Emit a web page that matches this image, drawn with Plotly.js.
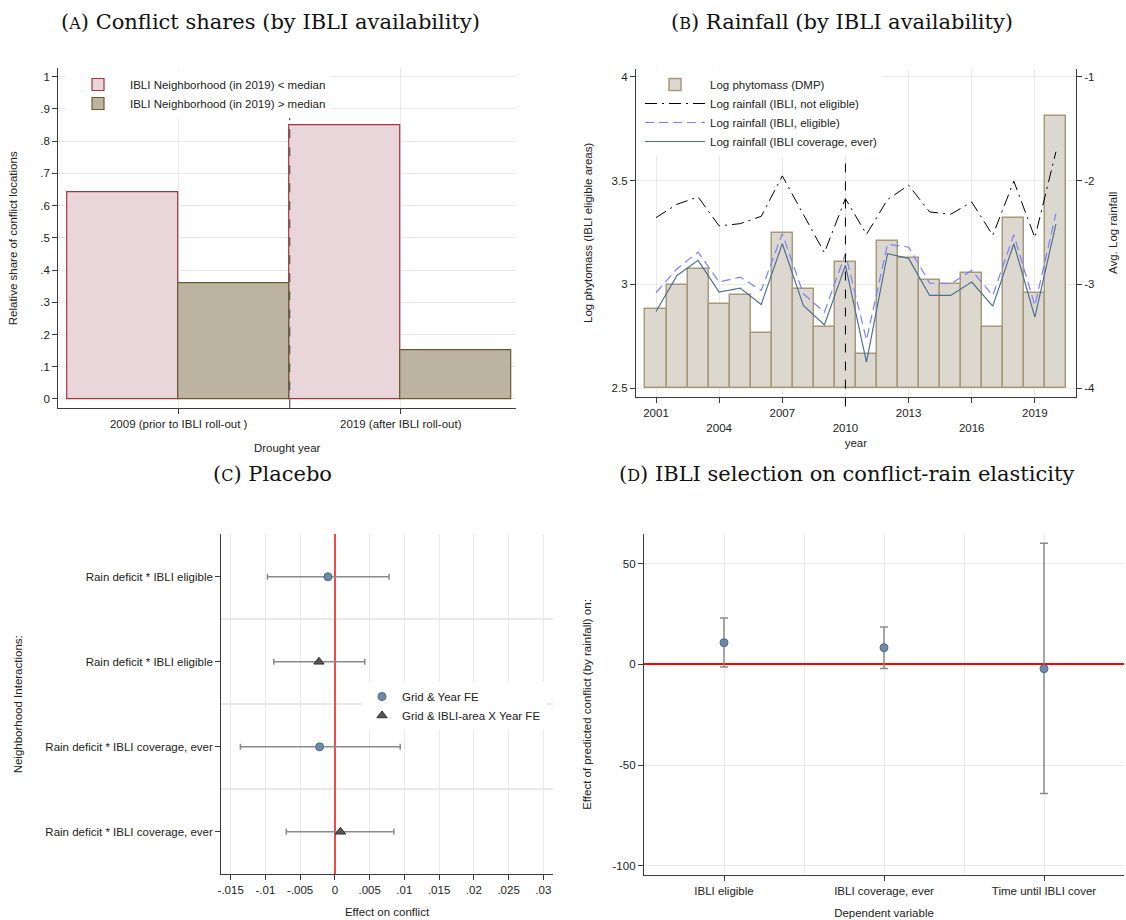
<!DOCTYPE html>
<html><head><meta charset="utf-8">
<script src="https://cdn.plot.ly/plotly-3.0.1.min.js"></script>
<style>html,body{margin:0;padding:0;background:#fff}#chart{width:1126px;height:920px}</style>
</head><body><div id="chart"></div>
<script>
// ---------- Panel A: conflict shares ----------
const droughtYears = ["2009 (prior to IBLI roll-out )", "2019 (after IBLI roll-out)"];
const shareBelowMedian = [0.64, 0.848];
const shareAboveMedian = [0.36, 0.152];
const shareTickVals = [0, 0.1, 0.2, 0.3, 0.4, 0.5, 0.6, 0.7, 0.8, 0.9, 1];
const shareTickText = ["0", ".1", ".2", ".3", ".4", ".5", ".6", ".7", ".8", ".9", "1"];

// ---------- Panel B: rainfall ----------
const years = [2001, 2002, 2003, 2004, 2005, 2006, 2007, 2008, 2009, 2010,
               2011, 2012, 2013, 2014, 2015, 2016, 2017, 2018, 2019, 2020];
const logPhytomass = [2.883, 2.997, 3.073, 2.905, 2.950, 2.766, 3.248, 2.977, 2.794, 3.109,
                      2.663, 3.209, 3.126, 3.020, 3.002, 3.056, 2.795, 3.322, 2.957, 3.812];
const rainNotEligible = [-2.357, -2.228, -2.158, -2.437, -2.415, -2.344, -1.955, -2.33, -2.695, -2.174,
                         -2.518, -2.183, -2.045, -2.302, -2.325, -2.206, -2.527, -2.006, -2.55, -1.723];
const rainEligible = [-3.08, -2.849, -2.688, -2.977, -2.929, -3.058, -2.511, -3.09, -3.267, -2.704,
                      -3.534, -2.614, -2.64, -2.987, -2.994, -2.865, -3.106, -2.521, -3.203, -2.318];
const rainCoverage = [-3.26, -2.913, -2.768, -3.074, -3.035, -3.193, -2.608, -3.203, -3.389, -2.817,
                      -3.749, -2.704, -2.749, -3.106, -3.106, -2.977, -3.209, -2.608, -3.315, -2.42];
const yearTickVals = [2001, 2004, 2007, 2010, 2013, 2016, 2019];
const yearTickText = ["2001", "<br>2004", "2007", "<br>2010", "2013", "<br>2016", "2019"];
const phytoTickVals = [2.5, 3, 3.5, 4];
const phytoTickText = ["2.5", "3", "3.5", "4"];
const rainTickVals = [-4, -3, -2, -1];
const rainTickText = ["-4", "-3", "-2", "-1"];
const rolloutYear = 2010;
const phytoBase = 2.5;

// ---------- Panel C: placebo ----------
const placeboLabels = ["Rain deficit * IBLI eligible", "Rain deficit * IBLI eligible",
                       "Rain deficit * IBLI coverage, ever", "Rain deficit * IBLI coverage, ever"];
const placeboModel = ["Grid & Year FE", "Grid & IBLI-area X Year FE", "Grid & Year FE", "Grid & IBLI-area X Year FE"];
const placeboEst = [-0.001, -0.0023, -0.0022, 0.0008];
const placeboLo = [-0.0097, -0.0088, -0.0136, -0.0070];
const placeboHi = [0.0078, 0.0043, 0.0094, 0.0085];
const effectTickVals = [-0.015, -0.01, -0.005, 0, 0.005, 0.01, 0.015, 0.02, 0.025, 0.03];
const effectTickText = ["-.015", "-.01", "-.005", "0", ".005", ".01", ".015", ".02", ".025", ".03"];

// ---------- Panel D: selection ----------
const depVars = ["IBLI eligible", "IBLI coverage, ever", "Time until IBLI cover"];
const selEst = [10.8, 8.3, -2.1];
const selLo = [-1.3, -2.0, -64.1];
const selHi = [23.0, 18.5, 60.1];
const selTickVals = [-100, -50, 0, 50];
const selTickText = ["-100", "-50", "0", "50"];

// ---------- layout helpers ----------
const W = 1126, H = 920;
const dx = (a, b) => [a / W, b / W];
const dy = (top, bottom) => [1 - bottom / H, 1 - top / H];
const FONT = "Liberation Sans, Arial, sans-serif";
const SERIF = "DejaVu Serif, Liberation Serif, serif";
const FS = 11.5;
const GRID = "#e9e9e9";
const AXIS = "#3c3c3c";
const TXT = "#222";
const axFont = {family: FONT, size: FS, color: TXT};

function axisBase(extra) {
  return Object.assign({
    showline: true, linecolor: AXIS, linewidth: 1.3, mirror: false,
    ticks: "outside", ticklen: 5, tickcolor: AXIS, tickwidth: 1,
    gridcolor: GRID, gridwidth: 1, zeroline: false,
    tickfont: axFont, fixedrange: true
  }, extra);
}

const traces = [];

// Panel A
traces.push({
  type: "bar", x: droughtYears, y: shareBelowMedian, xaxis: "x", yaxis: "y",
  name: "IBLI Neighborhood (in 2019) < median", legend: "legend",
  marker: {color: "#e8d6da", line: {color: "#a3343f", width: 1.2}}, hoverinfo: "y"
});
traces.push({
  type: "bar", x: droughtYears, y: shareAboveMedian, xaxis: "x", yaxis: "y",
  name: "IBLI Neighborhood (in 2019) > median", legend: "legend",
  marker: {color: "#bcb3a0", line: {color: "#6b5a30", width: 1.2}}, hoverinfo: "y"
});

// Panel B
traces.push({
  type: "bar", x: years, y: logPhytomass.map(v => v - phytoBase), base: phytoBase,
  xaxis: "x2", yaxis: "y2", name: "Log phytomass (DMP)", legend: "legend2",
  marker: {color: "#ddd8cf", line: {color: "#a8997a", width: 1.5}}
});
traces.push({
  type: "scatter", mode: "lines", x: years, y: rainNotEligible, xaxis: "x2", yaxis: "y3",
  name: "Log rainfall (IBLI, not eligible)", legend: "legend2",
  line: {color: "#000", width: 1, dash: "12px,5px,2px,5px"}
});
traces.push({
  type: "scatter", mode: "lines", x: years, y: rainEligible, xaxis: "x2", yaxis: "y3",
  name: "Log rainfall (IBLI, eligible)", legend: "legend2",
  line: {color: "#7f7fff", width: 1.2, dash: "9px,5px"}
});
traces.push({
  type: "scatter", mode: "lines", x: years, y: rainCoverage, xaxis: "x2", yaxis: "y3",
  name: "Log rainfall (IBLI coverage, ever)", legend: "legend2",
  line: {color: "#4d7290", width: 1.2}
});

// Panel C
const placeboStyles = {
  "Grid & Year FE": {symbol: "circle", color: "#6d8aa8", line: "#4c6985", size: 8},
  "Grid & IBLI-area X Year FE": {symbol: "triangle-up", color: "#555555", line: "#333333", size: 9}
};
Object.keys(placeboStyles).forEach(model => {
  const idx = placeboModel.map((m, i) => m === model ? i : -1).filter(i => i >= 0);
  const st = placeboStyles[model];
  traces.push({
    type: "scatter", mode: "markers", xaxis: "x3", yaxis: "y4", name: model, legend: "legend3",
    x: idx.map(i => placeboEst[i]), y: idx.map(i => i + 1),
    error_x: {type: "data", symmetric: false,
              array: idx.map(i => placeboHi[i] - placeboEst[i]),
              arrayminus: idx.map(i => placeboEst[i] - placeboLo[i]),
              color: "#8a8a8a", thickness: 1.5, width: 3},
    marker: {symbol: st.symbol, color: st.color, size: st.size, line: {color: st.line, width: 1}}
  });
});

// Panel D
traces.push({
  type: "scatter", mode: "markers", xaxis: "x4", yaxis: "y5", showlegend: false,
  x: depVars.map((d, i) => i + 1), y: selEst, text: depVars,
  error_y: {type: "data", symmetric: false,
            array: selHi.map((h, i) => h - selEst[i]),
            arrayminus: selEst.map((e, i) => e - selLo[i]),
            color: "#8a8a8a", thickness: 1.5, width: 4},
  marker: {symbol: "circle", color: "#6d8aa8", size: 8, line: {color: "#4c6985", width: 1}}
});

const titleFont = {family: SERIF, size: 21, color: "#111"};
const sc = t => '(<span style="font-size:16px">' + t + '</span>)';

const layout = {
  width: W, height: H, margin: {l: 0, r: 0, t: 0, b: 0},
  paper_bgcolor: "#fff", plot_bgcolor: "#fff",
  font: {family: FONT, size: FS, color: TXT},
  barmode: "group", bargap: 0, bargroupgap: 0,
  hovermode: "closest",

  // Panel A
  xaxis: axisBase({domain: dx(58.3, 516), anchor: "y", type: "category",
    range: [-0.542, 1.519], showgrid: true,
    title: {text: "Drought year", font: axFont, standoff: 14}}),
  yaxis: axisBase({domain: dy(68.3, 408.3), anchor: "x", range: [-0.029, 1.026],
    tickmode: "array", tickvals: shareTickVals, ticktext: shareTickText, showgrid: true,
    title: {text: "Relative share of conflict locations", font: axFont, standoff: 20}}),

  // Panel B
  xaxis2: axisBase({domain: dx(636, 1075.7), anchor: "y2", range: [2000.05, 2020.94],
    tickmode: "array", tickvals: yearTickVals, ticktext: yearTickText, showgrid: true,
    title: {text: "year", font: axFont, standoff: 6}}),
  yaxis2: axisBase({domain: dy(69, 396.7), anchor: "x2", range: [2.4596, 4.037],
    tickmode: "array", tickvals: phytoTickVals, ticktext: phytoTickText, showgrid: true,
    title: {text: "Log phytomass (IBLI eligible areas)", font: axFont, standoff: 16}}),
  yaxis3: axisBase({overlaying: "y2", side: "right", anchor: "x2",
    range: [2 * 2.4596 - 9, 2 * 4.037 - 9],
    tickmode: "array", tickvals: rainTickVals, ticktext: rainTickText, showgrid: false,
    title: {text: "Avg. Log rainfall", font: axFont, standoff: 14}}),

  // Panel C (zero line in red)
  xaxis3: axisBase({domain: dx(221.3, 552.7), anchor: "y4", range: [-0.01635, 0.03135],
    tickmode: "array", tickvals: effectTickVals, ticktext: effectTickText, showgrid: true,
    zeroline: true, zerolinecolor: "#f24a4a", zerolinewidth: 2,
    title: {text: "Effect on conflict", font: axFont, standoff: 12}}),
  yaxis4: axisBase({domain: dy(534.3, 874.3), anchor: "x3", range: [4.5, 0.5],
    tickmode: "array", tickvals: [1, 2, 3, 4], ticktext: placeboLabels, showgrid: false,
    minor: {tickvals: [1.5, 2.5, 3.5], showgrid: true, gridcolor: GRID, gridwidth: 1.5, ticks: ""},
    title: {text: "Neighborhood Interactions:", font: axFont, standoff: 20}}),

  // Panel D (zero line in red)
  xaxis4: axisBase({domain: dx(644, 1124), anchor: "y5", range: [0.5, 3.5],
    tickmode: "array", tickvals: [1, 2, 3], ticktext: depVars, showgrid: true,
    minor: {tickvals: [1.5, 2.5], showgrid: true, gridcolor: GRID, gridwidth: 1, ticks: ""},
    title: {text: "Dependent variable", font: axFont, standoff: 12}}),
  yaxis5: axisBase({domain: dy(534, 875), anchor: "x4", range: [-104.5, 64.7],
    tickmode: "array", tickvals: selTickVals, ticktext: selTickText, showgrid: true,
    zeroline: true, zerolinecolor: "#ff0000", zerolinewidth: 1.5,
    title: {text: "Effect of predicted conflict (by rainfall) on:", font: axFont, standoff: 18}}),

  legend: {x: 66 / W, xanchor: "left", y: 1 - 70 / H, yanchor: "top", bgcolor: "#fff",
    borderwidth: 0, itemwidth: 54, font: axFont, traceorder: "normal",
    itemclick: false, itemdoubleclick: false},
  legend2: {x: 640 / W, xanchor: "left", y: 1 - 70 / H, yanchor: "top", bgcolor: "#fff",
    borderwidth: 0, itemwidth: 60, font: axFont, traceorder: "normal",
    itemclick: false, itemdoubleclick: false},
  legend3: {x: 362 / W, xanchor: "left", y: 1 - 682 / H, yanchor: "top", bgcolor: "#fff",
    borderwidth: 0, font: axFont, traceorder: "normal",
    itemclick: false, itemdoubleclick: false},

  shapes: [
    {type: "line", xref: "x", yref: "y domain", x0: 0.5, x1: 0.5, y0: 0, y1: 1,
     line: {color: "#555", width: 1.2, dash: "dash"}, layer: "above"},
    {type: "line", xref: "x2", yref: "y2 domain", x0: rolloutYear, x1: rolloutYear, y0: -0.03, y1: 1,
     line: {color: "#000", width: 1, dash: "dash"}, layer: "above"}
  ],

  annotations: [
    {text: sc("A") + " Conflict shares (by IBLI availability)", x: 270 / W, y: 1 - 22 / H},
    {text: sc("B") + " Rainfall (by IBLI availability)", x: 842 / W, y: 1 - 22 / H},
    {text: sc("C") + " Placebo", x: 272 / W, y: 1 - 474 / H},
    {text: sc("D") + " IBLI selection on conflict-rain elasticity", x: 846 / W, y: 1 - 474 / H}
  ].map(a => Object.assign({xref: "paper", yref: "paper", showarrow: false,
    xanchor: "center", yanchor: "middle", font: titleFont}, a))
};

Plotly.newPlot("chart", traces, layout, {displayModeBar: false, responsive: false});
</script>
</body></html>
